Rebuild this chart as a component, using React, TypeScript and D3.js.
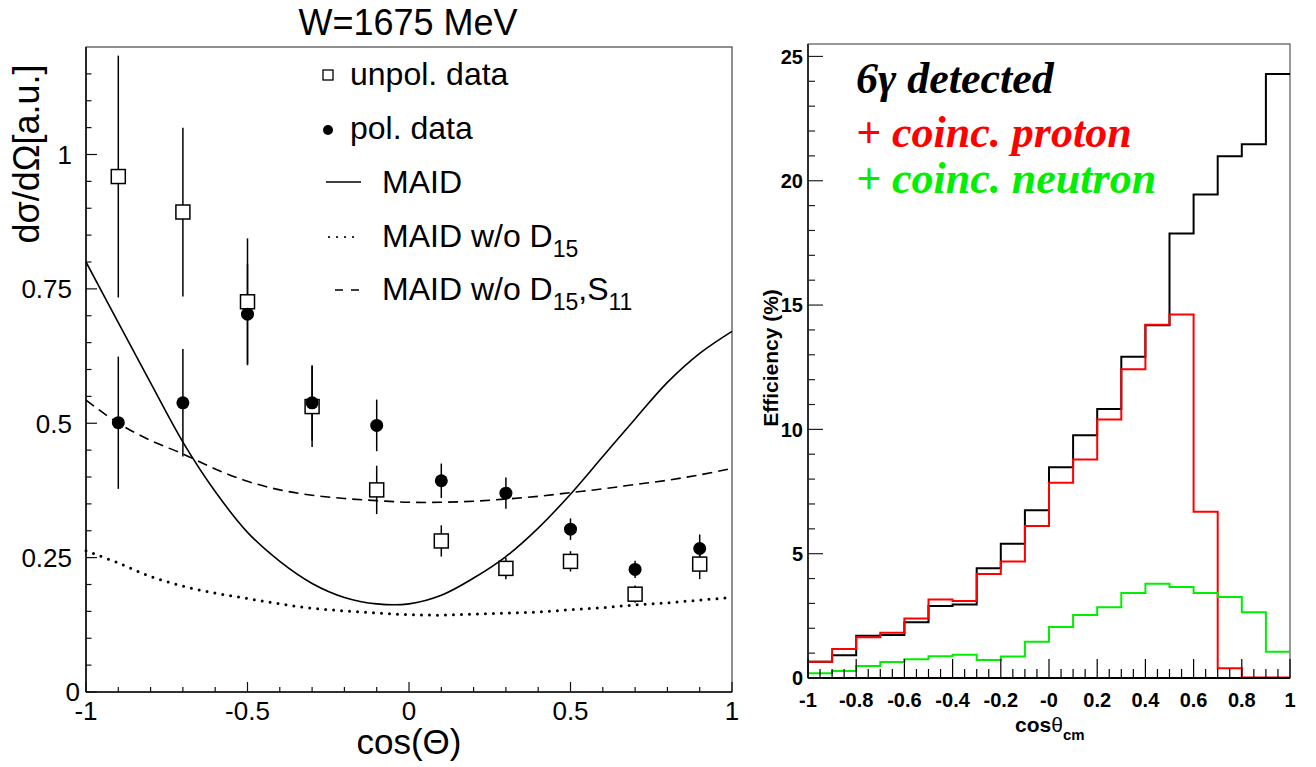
import React from 'react';
import * as d3 from 'd3';

// ---------- Left panel data ----------
const dataCos = [-0.9, -0.7, -0.5, -0.3, -0.1, 0.1, 0.3, 0.5, 0.7, 0.9];
const unpolValues = [0.959, 0.893, 0.726, 0.531, 0.376, 0.281, 0.230, 0.243, 0.182, 0.238];
const unpolErrors = [0.225, 0.157, 0.118, 0.075, 0.045, 0.029, 0.020, 0.019, 0.016, 0.028];
const polValues = [0.501, 0.538, 0.703, 0.538, 0.496, 0.393, 0.370, 0.303, 0.228, 0.267];
const polErrors = [0.123, 0.100, 0.093, 0.070, 0.048, 0.032, 0.029, 0.020, 0.016, 0.026];

const curveCos = [-1, -0.9, -0.8, -0.7, -0.6, -0.5, -0.4, -0.3, -0.2, -0.1, 0, 0.1, 0.2, 0.3, 0.4, 0.5, 0.6, 0.7, 0.8, 0.9, 1];
const maid = [0.800, 0.687, 0.575, 0.465, 0.373, 0.297, 0.243, 0.202, 0.176, 0.164, 0.164, 0.180, 0.212, 0.252, 0.305, 0.368, 0.438, 0.508, 0.576, 0.630, 0.671];
const maidNoD15 = [0.263, 0.240, 0.215, 0.197, 0.184, 0.174, 0.164, 0.156, 0.151, 0.147, 0.144, 0.143, 0.145, 0.147, 0.149, 0.153, 0.157, 0.162, 0.166, 0.171, 0.176];
const maidNoD15S11 = [0.543, 0.500, 0.468, 0.443, 0.415, 0.392, 0.376, 0.366, 0.360, 0.356, 0.353, 0.353, 0.355, 0.359, 0.364, 0.371, 0.378, 0.386, 0.394, 0.404, 0.416];

const leftXTicks = [-1, -0.5, 0, 0.5, 1];
const leftYTicks = [0, 0.25, 0.5, 0.75, 1];

// ---------- Right panel data ----------
const binEdgesLow = [-1, -0.9, -0.8, -0.7, -0.6, -0.5, -0.4, -0.3, -0.2, -0.1, 0, 0.1, 0.2, 0.3, 0.4, 0.5, 0.6, 0.7, 0.8, 0.9];
const eff6g = [0.65, 0.92, 1.70, 1.73, 2.24, 2.90, 2.96, 4.41, 5.40, 6.75, 8.48, 9.76, 10.82, 12.92, 14.19, 17.88, 19.45, 20.99, 21.47, 24.29];
const effProton = [0.65, 1.17, 1.64, 1.82, 2.39, 3.16, 3.10, 4.18, 4.69, 6.11, 7.85, 8.79, 10.40, 12.42, 14.21, 14.62, 6.69, 0.39, 0.02, 0.02];
const effNeutron = [0.19, 0.28, 0.48, 0.64, 0.75, 0.87, 0.94, 0.72, 0.86, 1.46, 2.05, 2.53, 2.85, 3.42, 3.79, 3.66, 3.42, 3.26, 2.64, 1.06];

const rightXTickValues = [-1, -0.8, -0.6, -0.4, -0.2, 0, 0.2, 0.4, 0.6, 0.8, 1];
const rightXTickLabels = ['-1', '-0.8', '-0.6', '-0.4', '-0.2', '-0', '0.2', '0.4', '0.6', '0.8', '1'];
const rightYTicks = [0, 5, 10, 15, 20, 25];

const SANS = '"Liberation Sans", Arial, Helvetica, sans-serif';
const SERIF = '"Liberation Serif", "Times New Roman", serif';

export default function App() {
  // scales
  const xL = d3.scaleLinear().domain([-1, 1]).range([86, 732]);
  const yL = d3.scaleLinear().domain([0, 1.2]).range([692, 47]);
  const xR = d3.scaleLinear().domain([-1, 1]).range([808, 1290]);
  const yR = d3.scaleLinear().domain([0, 25.5]).range([678, 44]);

  const curveLine = d3
    .line<number>()
    .x((_, i) => xL(curveCos[i]))
    .y((d) => yL(d))
    .curve(d3.curveCatmullRom.alpha(0.5));

  const histPath = (vals: number[]) => {
    const pts: [number, number][] = binEdgesLow.map((e, i) => [e, vals[i]]);
    pts.push([1, vals[vals.length - 1]]);
    return d3
      .line<[number, number]>()
      .x((d) => xR(d[0]))
      .y((d) => yR(d[1]))
      .curve(d3.curveStepAfter)(pts) as string;
  };

  const leftMinorX = d3.range(-10, 11).map((i) => i / 10);
  const leftMinorY = d3.range(0, 24).map((i) => i * 0.05);
  const rightMinorX = d3.range(0, 41).map((i) => -1 + i * 0.05);
  const rightMinorY = d3.range(0, 26);

  const bottomL = yL(0);
  const bottomR = yR(0);

  return (
    <svg
      width={1316}
      height={767}
      style={{ position: 'absolute', left: 0, top: 0, background: '#fff' }}
      fontFamily={SANS}
    >
      <rect x={0} y={0} width={1316} height={767} fill="#fff" />

      {/* ================= LEFT PANEL ================= */}
      <text x={408} y={35} fontSize={36} textAnchor="middle" fill="#000">
        W=1675 MeV
      </text>

      {/* frame */}
      <rect x={xL(-1)} y={yL(1.2)} width={xL(1) - xL(-1)} height={yL(0) - yL(1.2)} fill="none" stroke="#444" strokeWidth={1.2} />
      <line x1={xL(-1)} x2={xL(1)} y1={bottomL} y2={bottomL} stroke="#111" strokeWidth={1.6} />
      <line x1={xL(-1)} x2={xL(-1)} y1={yL(0)} y2={yL(1.2)} stroke="#111" strokeWidth={1.6} />

      {/* x ticks */}
      {leftMinorX.map((v) => {
        const major = leftXTicks.some((t) => Math.abs(t - v) < 1e-9);
        return (
          <line key={'lxm' + v} x1={xL(v)} x2={xL(v)} y1={bottomL} y2={bottomL - (major ? 10 : 5)} stroke="#111" strokeWidth={1.2} />
        );
      })}
      {leftXTicks.map((v) => (
        <text key={'lxl' + v} x={xL(v)} y={720} fontSize={26} textAnchor="middle" fill="#000">
          {String(v)}
        </text>
      ))}
      {/* y ticks */}
      {leftMinorY.map((v) => {
        const major = leftYTicks.some((t) => Math.abs(t - v) < 1e-9);
        return (
          <line key={'lym' + v} x1={xL(-1)} x2={xL(-1) + (major ? 11 : 5.5)} y1={yL(v)} y2={yL(v)} stroke="#111" strokeWidth={1.2} />
        );
      })}
      {leftYTicks.map((v) => (
        <text key={'lyl' + v} x={v === 0 ? 80 : 72} y={yL(v)} dy="0.36em" fontSize={26} textAnchor="end" fill="#000">
          {String(v)}
        </text>
      ))}

      {/* axis titles */}
      <text x={409} y={754} fontSize={35} textAnchor="middle" fill="#000">
        cos(Θ)
      </text>
      <text transform={`translate(39,154) rotate(-90)`} fontSize={36} textAnchor="middle" fill="#000">
        dσ/dΩ[a.u.]
      </text>

      {/* curves */}
      <path d={curveLine(maid) as string} fill="none" stroke="#000" strokeWidth={1.6} />
      <path d={curveLine(maidNoD15) as string} fill="none" stroke="#000" strokeWidth={3} strokeDasharray="0 8" strokeLinecap="round" />
      <path d={curveLine(maidNoD15S11) as string} fill="none" stroke="#000" strokeWidth={1.6} strokeDasharray="10 6" />

      {/* error bars */}
      {dataCos.map((c, i) => (
        <line key={'ue' + i} x1={xL(c)} x2={xL(c)} y1={yL(unpolValues[i] - unpolErrors[i])} y2={yL(unpolValues[i] + unpolErrors[i])} stroke="#000" strokeWidth={1.5} />
      ))}
      {dataCos.map((c, i) => (
        <line key={'pe' + i} x1={xL(c)} x2={xL(c)} y1={yL(polValues[i] - polErrors[i])} y2={yL(polValues[i] + polErrors[i])} stroke="#000" strokeWidth={1.5} />
      ))}
      {/* markers */}
      {dataCos.map((c, i) => (
        <rect key={'us' + i} x={xL(c) - 7} y={yL(unpolValues[i]) - 7} width={14} height={14} fill="#fff" stroke="#000" strokeWidth={1.5} />
      ))}
      {dataCos.map((c, i) => (
        <circle key={'pc' + i} cx={xL(c)} cy={yL(polValues[i])} r={6.5} fill="#000" />
      ))}

      {/* legend */}
      <rect x={323} y={70} width={10} height={10} fill="#fff" stroke="#000" strokeWidth={1.3} />
      <text x={350} y={85} fontSize={32} fill="#000">unpol. data</text>
      <circle cx={328} cy={130} r={5} fill="#000" />
      <text x={350} y={139} fontSize={32} fill="#000">pol. data</text>
      <line x1={326} x2={361} y1={182} y2={182} stroke="#000" strokeWidth={1.5} />
      <text x={382} y={193} fontSize={32} fill="#000">MAID</text>
      <line x1={329} x2={358} y1={237} y2={237} stroke="#000" strokeWidth={2.2} strokeDasharray="0 8" strokeLinecap="round" />
      <text x={382} y={247} fontSize={32} fill="#000">
        MAID w/o D<tspan dy={10} fontSize={23}>15</tspan>
      </text>
      <line x1={335} x2={360} y1={290} y2={290} stroke="#000" strokeWidth={1.5} strokeDasharray="8 8" />
      <text x={382} y={300} fontSize={32} fill="#000">
        MAID w/o D<tspan dy={10} fontSize={23}>15</tspan>
        <tspan dy={-10}>,S</tspan>
        <tspan dy={10} fontSize={23}>11</tspan>
      </text>

      {/* ================= RIGHT PANEL ================= */}
      <rect x={xR(-1)} y={yR(25.5)} width={xR(1) - xR(-1)} height={yR(0) - yR(25.5)} fill="none" stroke="#555" strokeWidth={1.2} />

      {/* histograms */}
      <path d={histPath(eff6g)} fill="none" stroke="#000" strokeWidth={2} />
      <path d={histPath(effProton)} fill="none" stroke="#ff0000" strokeWidth={2} />
      <path d={histPath(effNeutron)} fill="none" stroke="#00ee00" strokeWidth={2} />

      <line x1={xR(-1)} x2={xR(1)} y1={bottomR} y2={bottomR} stroke="#000" strokeWidth={1.8} />
      <line x1={xR(-1)} x2={xR(-1)} y1={yR(0)} y2={yR(25.5)} stroke="#222" strokeWidth={1.8} />

      {/* x ticks */}
      {rightMinorX.map((v) => {
        const major = rightXTickValues.some((t) => Math.abs(t - v) < 1e-9);
        return (
          <line key={'rxm' + v.toFixed(2)} x1={xR(v)} x2={xR(v)} y1={bottomR} y2={bottomR - (major ? 19 : 9)} stroke="#000" strokeWidth={1.2} />
        );
      })}
      {rightXTickValues.map((v, i) => (
        <text key={'rxl' + i} x={xR(v)} y={707} fontSize={20} fontWeight="bold" textAnchor="middle" fill="#000">
          {rightXTickLabels[i]}
        </text>
      ))}
      {/* y ticks */}
      {rightMinorY.map((v) => {
        const major = rightYTicks.includes(v);
        return (
          <line key={'rym' + v} x1={xR(-1)} x2={xR(-1) + (major ? 15 : 7)} y1={yR(v)} y2={yR(v)} stroke="#222" strokeWidth={1.2} />
        );
      })}
      {rightYTicks.map((v) => (
        <text key={'ryl' + v} x={803} y={yR(v)} dy="0.36em" fontSize={20} fontWeight="bold" textAnchor="end" fill="#000">
          {String(v)}
        </text>
      ))}

      {/* axis titles */}
      <text x={1015} y={732} fontSize={21} fontWeight="bold" fill="#000">
        cos<tspan fontWeight="normal">θ</tspan>
        <tspan dy={8} fontSize={15}>cm</tspan>
      </text>
      <text transform={`translate(778,358) rotate(-90)`} fontSize={21} fontWeight="bold" textAnchor="middle" fill="#000">
        Efficiency (%)
      </text>

      {/* annotations */}
      <text x={856} y={93} fontFamily={SERIF} fontSize={44} fontWeight="bold" fontStyle="italic" fill="#000">
        6γ detected
      </text>
      <text x={856} y={147} fontFamily={SERIF} fontSize={44} fontWeight="bold" fontStyle="italic" fill="#ff0000">
        + coinc. proton
      </text>
      <text x={856} y={193} fontFamily={SERIF} fontSize={44} fontWeight="bold" fontStyle="italic" fill="#00ee00">
        + coinc. neutron
      </text>
    </svg>
  );
}
